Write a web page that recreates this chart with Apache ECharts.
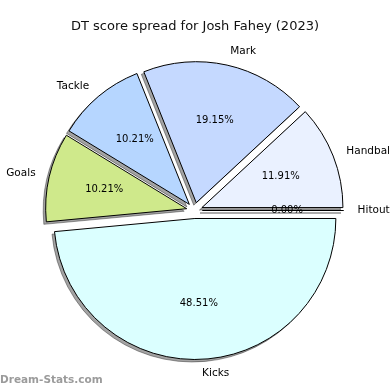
<!DOCTYPE html>
<html>
<head>
<meta charset="utf-8">
<script src="https://cdn.jsdelivr.net/npm/echarts@6/dist/echarts.min.js"></script>
<style>html,body{margin:0;padding:0;background:#fff}#c{width:390px;height:390px}</style>
</head>
<body>
<div id="c"></div>
<script>
// Data (counterclockwise from 3 o'clock)
const categories = ['Hitout', 'Handball', 'Mark', 'Tackle', 'Goals', 'Kicks'];
const percents = [0.00, 11.91, 19.15, 10.21, 10.21, 48.51];
const sliceColors = ['#e8f0ff', '#eaf1ff', '#c5d9ff', '#b6d6ff', '#cfe98b', '#dbffff'];
const titleText = 'DT score spread for Josh Fahey (2023)';
const watermark = 'Dream-Stats.com';

const font = 'DejaVu Sans';
const R = 141;
const center = [194.5, 210.5];
const shadowShift = 2.5;
const shadowColor = 'rgba(0,0,0,0.36)';
const offset = 8;

const mainData = categories.map((n, i) => ({
  name: n, value: percents[i], selected: true,
  itemStyle: { color: sliceColors[i] }
}));
const plainData = categories.map((n, i) => ({
  name: n, value: percents[i], selected: true
}));

const common = {
  type: 'pie', startAngle: 0, clockwise: false,
  selectedMode: 'multiple', selectedOffset: offset,
  avoidLabelOverlap: false, silent: true,
  emphasis: { disabled: true, scale: false }
};

const chart = echarts.init(document.getElementById('c'), null, { renderer: 'canvas' });
chart.setOption({
  animation: false,
  backgroundColor: '#fff',
  title: {
    text: titleText, left: 'center', top: 20, padding: 0,
    textStyle: { fontFamily: font, fontSize: 13, fontWeight: 'normal', color: '#111' }
  },
  graphic: [{
    type: 'text', left: 0, top: 375,
    style: { text: watermark, fontFamily: font, fontSize: 10.5, fontWeight: 'bold', fill: '#9b9b9b' }
  }],
  series: [Object.assign({}, common, {
    // drop shadow layer
    center: [center[0] - shadowShift, center[1] + shadowShift], radius: [0, R],
    z: 1,
    itemStyle: { color: shadowColor, borderColor: shadowColor, borderWidth: 1 },
    select: { itemStyle: { color: shadowColor, borderColor: shadowColor, borderWidth: 1 } },
    label: { show: false }, labelLine: { show: false },
    data: plainData
  }), Object.assign({}, common, {
    center: center, radius: [0, R],
    z: 2,
    itemStyle: { borderColor: '#000', borderWidth: 1 },
    select: { itemStyle: { borderColor: '#000', borderWidth: 1 } },
    label: {
      show: true, position: 'outside', formatter: '{b}',
      fontFamily: font, fontSize: 10.5, color: '#000', distanceToLabelLine: 0
    },
    labelLine: { show: false, length: R * 0.1, length2: 0 },
    data: mainData
  }), Object.assign({}, common, {
    center: center, radius: [0, R * 1.2 - 6],
    z: 3,
    itemStyle: { color: 'rgba(0,0,0,0)', borderWidth: 0 },
    select: { itemStyle: { color: 'rgba(0,0,0,0)', borderWidth: 0 } },
    label: {
      show: true, position: 'inside',
      formatter: p => p.value.toFixed(2) + '%',
      fontFamily: font, fontSize: 10, color: '#000'
    },
    labelLine: { show: false },
    data: plainData
  })]
});
</script>
</body>
</html>
